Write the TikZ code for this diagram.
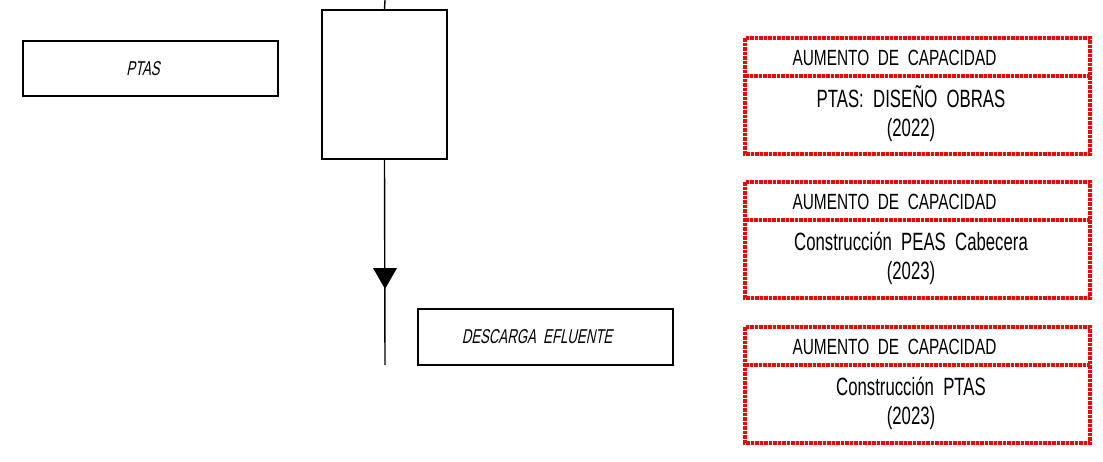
\documentclass[tikz,border=0pt]{standalone}
\usepackage{fontspec}
\newfontfamily\cadh[FakeStretch=0.70,WordSpace=2]{Liberation Sans}
\newfontfamily\cad[FakeStretch=0.67,WordSpace=2]{Liberation Sans}
\newfontfamily\cadit[FakeStretch=0.66,FakeSlant=0.2,WordSpace=2]{Liberation Sans}
\begin{document}
\begin{tikzpicture}[x=1pt,y=-1pt,
  blk/.style={draw=black,line width=1.4pt,inner sep=0pt},
  redbox/.style={draw=red,line width=3.4pt,dash pattern=on 3.5pt off 1pt},
  hdr/.style={font=\cadh\fontsize{22}{24}\selectfont,anchor=west},
  body/.style={font=\cad\fontsize{25}{29}\selectfont,align=center},
  ital/.style={font=\cadit\fontsize{20}{24}\selectfont}]
\useasboundingbox (0,0) rectangle (1103,461);
% left boxes
\node[blk,minimum width=255pt,minimum height=55pt] (ptas) at (150.5,68.5) {};
\node[ital] (ptast) at (143,69) {PTAS};
\node[blk,minimum width=125pt,minimum height=149pt] (c) at (384.5,84.5) {};
\coordinate (top) at (385,0);
\coordinate (bot) at (385,365);
\draw[line width=1.4pt] (top) -- (c.north);
\draw[line width=1.4pt] (c.south) -- (bot);
\fill (373,268) -- (397,268) -- (385,289) -- cycle;
\node[blk,minimum width=255pt,minimum height=56pt] (desc) at (545.5,337) {};
\node[ital] (desct) at (537,337) {DESCARGA EFLUENTE};
% red boxes
\foreach \y/\t [count=\i] in {38/{PTAS: DISEÑO OBRAS\\(2022)},182/{Construcción PEAS Cabecera\\(2023)},327/{Construcción PTAS\\(2023)}}{
  \draw[redbox] (745,\y) rectangle (1090,\y+116);
  \draw[redbox] (745,\y+38) -- (1090,\y+38);
  \node[hdr] (h\i) at (789,\y+20) {AUMENTO DE CAPACIDAD};
  \node[body] (b\i) at (911,\y+76) {\t};
}
\end{tikzpicture}
\end{document}
